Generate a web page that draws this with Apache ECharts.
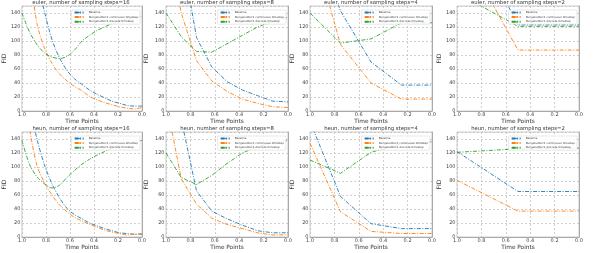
<!DOCTYPE html>
<html><head><meta charset="utf-8">
<script src="https://cdn.jsdelivr.net/npm/echarts@6/dist/echarts.min.js"></script>
<style>html,body{margin:0;padding:0;background:#fff}#c{width:598px;height:253px}</style>
</head><body><div id="c"></div>
<script>
// time points
const t16 = [1, 0.9375, 0.875, 0.8125, 0.75, 0.6875, 0.625, 0.5625, 0.5, 0.4375, 0.375, 0.3125, 0.25, 0.1875, 0.125, 0.0625, 0];
const t8 = [1, 0.875, 0.75, 0.625, 0.5, 0.375, 0.25, 0.125, 0];
const t4 = [1, 0.75, 0.5, 0.25, 0];
const t2 = [1, 0.5, 0];

const seriesNames = ['Baseline', 'Rungekutta t1 continuous timestep', 'Rungekutta t1 discrete timestep'];
const titles = [
  'euler, number of sampling steps=16', 'euler, number of sampling steps=8',
  'euler, number of sampling steps=4', 'euler, number of sampling steps=2',
  'heun, number of sampling steps=16', 'heun, number of sampling steps=8',
  'heun, number of sampling steps=4', 'heun, number of sampling steps=2'
];
const xTicks = [0, 0.2, 0.4, 0.6, 0.8, 1.0];
const yTicks = [0, 20, 40, 60, 80, 100, 120, 140];

// euler
const eulerBase16 = [320, 250, 190, 142, 102, 76, 58, 46, 38, 30, 24, 19, 14, 11, 8, 7, 7];
const eulerCont16 = [250, 200, 125, 90, 68, 53, 43, 35, 29, 21, 16, 12, 9, 6, 4, 3, 5];
const eulerDisc16 = [140, 113, 95, 83, 77, 75, 78, 87, 100, 108, 115, 120, 125, 129, 131, 133, 135];
const eulerBase8 = [320, 230, 105, 63, 42, 30, 22, 14, 13];
const eulerCont8 = [250, 140, 72, 43, 28, 17, 11, 6, 5];
const eulerDisc8 = [140, 106, 85, 84, 96, 108, 120, 128, 134];
const eulerBase4 = [260, 143, 70, 37, 37];
const eulerCont4 = [250, 95, 40, 17, 17];
const eulerDisc4 = [140, 97, 103, 126, 126];
const eulerBase2 = [291, 123, 123];
const eulerCont2 = [245, 87, 87];
const eulerDisc2 = [169, 121, 121];
// heun
const heunBase16 = [250, 190, 140, 103, 76, 56, 41, 32, 26, 20, 16, 12, 9, 6, 5, 4, 4];
const heunCont16 = [220, 155, 102, 78, 60, 46, 36, 28, 23, 18, 14, 10, 7, 5, 3, 4, 5];
const heunDisc16 = [138, 104, 86, 76, 70, 74, 85, 95, 104, 111, 117, 122, 127, 131, 134, 136, 138];
const heunBase8 = [250, 168, 66, 37, 26, 17, 9, 6, 6];
const heunCont8 = [195, 83, 47, 27, 18, 12, 6, 3, 3];
const heunDisc8 = [120, 85, 75, 88, 105, 120, 129, 135, 138];
const heunBase4 = [165, 58, 19, 12, 12];
const heunCont4 = [134, 36, 8, 5, 5];
const heunDisc4 = [110, 91, 121, 133, 136];
const heunBase2 = [122, 65, 65];
const heunCont2 = [81, 37, 37];
const heunDisc2 = [121, 126, 127];

const panels = [
  [t16, eulerBase16, eulerCont16, eulerDisc16],
  [t8, eulerBase8, eulerCont8, eulerDisc8],
  [t4, eulerBase4, eulerCont4, eulerDisc4],
  [t2, eulerBase2, eulerCont2, eulerDisc2],
  [t16, heunBase16, heunCont16, heunDisc16],
  [t8, heunBase8, heunCont8, heunDisc8],
  [t4, heunBase4, heunCont4, heunDisc4],
  [t2, heunBase2, heunCont2, heunDisc2]
];

const colors = ['#1f77b4', '#ff7f0e', '#2ca02c'];
const FONT = 'DejaVu Sans';
const lefts = [20, 166, 310, 457];
const plotW = 122;
const tops = [6, 132];
const plotH = 105;
const fidGaps = [12, 17, 14, 13];
const W = 598;

const grid = [], xAxis = [], yAxis = [], series = [], title = [], legend = [];
panels.forEach((p, i) => {
  const col = i % 4, row = Math.floor(i / 4);
  const L = lefts[col], T = tops[row];
  grid.push({left: L, top: T, width: plotW, height: plotH, show: true, borderColor: '#cccccc', borderWidth: 1, backgroundColor: 'transparent'});
  xAxis.push({
    gridIndex: i, type: 'value', min: 0, max: 1, interval: 0.2, inverse: true,
    name: 'Time Points', nameLocation: 'middle', nameGap: 7.5,
    nameTextStyle: {fontFamily: FONT, fontSize: 5.8, color: '#333'},
    axisLine: {show: true, lineStyle: {color: '#aaa', width: 1}},
    axisTick: {show: false},
    axisLabel: {fontFamily: FONT, fontSize: 5, color: '#444', margin: 1.5,
      formatter: v => (xTicks.some(t => Math.abs(t - v) < 1e-9) ? v.toFixed(1) : '')},
    splitLine: {show: true, lineStyle: {type: [2, 2], color: '#bdbdbd', width: 0.7}}
  });
  yAxis.push({
    gridIndex: i, type: 'value', min: 0, max: 150, interval: 20,
    name: 'FID', nameLocation: 'middle', nameGap: fidGaps[col],
    nameTextStyle: {fontFamily: FONT, fontSize: 6, color: '#333'},
    axisLine: {show: true, lineStyle: {color: '#aaa', width: 1}},
    axisTick: {show: false},
    axisLabel: {fontFamily: FONT, fontSize: 5, color: '#444', margin: 1.5, showMaxLabel: false,
      formatter: v => (yTicks.indexOf(v) >= 0 ? String(v) : '')},
    splitLine: {show: true, lineStyle: {type: [2, 2], color: '#bdbdbd', width: 0.7}}
  });
  title.push({
    text: titles[i], left: L + plotW / 2, top: T - 5.5, textAlign: 'center', padding: 0,
    textStyle: {fontFamily: FONT, fontSize: 5.3, fontWeight: 'normal', color: '#333'}
  });
  legend.push({
    data: seriesNames, orient: 'vertical', right: W - (L + plotW - 2), top: T + 4,
    itemWidth: 9, itemHeight: 2, itemGap: 1.6, padding: [1, 2, 1, 2],
    backgroundColor: 'rgba(255,255,255,0.85)', borderColor: '#d0d0d0', borderWidth: 0.5, borderRadius: 1,
    textStyle: {fontFamily: FONT, fontSize: 2.8, color: '#444'},
    selectedMode: false
  });
  const t = p[0];
  for (let k = 0; k < 3; k++) {
    series.push({
      name: seriesNames[k], type: 'line', xAxisIndex: i, yAxisIndex: i,
      data: t.map((x, j) => [x, p[k + 1][j]]),
      symbol: 'none', clip: true, smooth: t.length > 9 ? 0.3 : false,
      lineStyle: {color: colors[k], width: 0.9, type: [4, 1.5, 1, 1.5]},
      itemStyle: {color: colors[k]}, z: 2
    });
  }
});

const chart = echarts.init(document.getElementById('c'), null, {renderer: 'canvas'});
chart.setOption({animation: false, backgroundColor: '#fff', grid, xAxis, yAxis, series, title, legend});
</script></body></html>
